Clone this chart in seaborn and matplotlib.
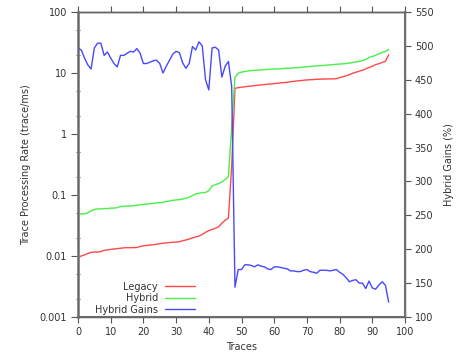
import numpy as np
import pandas as pd
import matplotlib
matplotlib.use("Agg")
import matplotlib.pyplot as plt
import matplotlib.ticker as mticker
import seaborn as sns

traces = list(range(96))

legacy = [0.0095, 0.0100, 0.0104, 0.0110, 0.0115, 0.0116, 0.0116, 0.0118, 0.0124, 0.0126,
          0.0128, 0.0130, 0.0132, 0.0134, 0.0136, 0.0137, 0.0137, 0.0137, 0.0138, 0.0143,
          0.0147, 0.0149, 0.0151, 0.0153, 0.0156, 0.0159, 0.0162, 0.0164, 0.0166, 0.0168,
          0.0169, 0.0172, 0.0178, 0.0183, 0.0190, 0.0198, 0.0206, 0.0212, 0.0226, 0.0245,
          0.0260, 0.0272, 0.0285, 0.0302, 0.0345, 0.0385, 0.042, 0.30, 5.6, 5.75,
          5.85, 5.95, 6.05, 6.1, 6.2, 6.3, 6.4, 6.45, 6.55, 6.6,
          6.7, 6.8, 6.9, 6.95, 7.05, 7.2, 7.3, 7.4, 7.5, 7.6,
          7.7, 7.75, 7.8, 7.9, 7.92, 7.95, 7.97, 8.0, 8.0, 8.1,
          8.4, 8.7, 9.0, 9.4, 9.9, 10.3, 10.7, 11.1, 11.7, 12.3,
          12.9, 13.7, 14.2, 14.9, 15.5, 19.8]

hybrid = [0.049, 0.049, 0.049, 0.051, 0.055, 0.058, 0.059, 0.059, 0.060, 0.060,
          0.061, 0.061, 0.062, 0.065, 0.065, 0.066, 0.066, 0.067, 0.068, 0.069,
          0.070, 0.071, 0.072, 0.073, 0.074, 0.075, 0.076, 0.078, 0.080, 0.082,
          0.083, 0.084, 0.086, 0.088, 0.092, 0.098, 0.104, 0.107, 0.109, 0.110,
          0.118, 0.140, 0.148, 0.154, 0.163, 0.180, 0.20, 1.3, 8.5, 9.9,
          10.3, 10.6, 10.8, 10.95, 11.05, 11.15, 11.25, 11.35, 11.45, 11.55,
          11.6, 11.7, 11.75, 11.85, 11.95, 12.05, 12.15, 12.25, 12.35, 12.5,
          12.65, 12.8, 12.95, 13.1, 13.2, 13.3, 13.45, 13.6, 13.75, 13.9,
          14.0, 14.15, 14.3, 14.6, 14.9, 15.2, 15.5, 16.0, 16.6, 18.1,
          18.6, 19.6, 20.6, 21.7, 22.6, 24.3]

gains = [497, 494, 482, 472, 466, 497, 504, 504, 486, 491,
         482, 474, 469, 486, 486, 489, 492, 491, 496, 489,
         474, 474, 476, 478, 479, 474, 460, 470, 479, 488,
         492, 490, 475, 467, 474, 499, 494, 506, 500, 450,
         435, 497, 498, 494, 454, 470, 477, 440, 144, 170,
         170, 177, 177, 176, 174, 177, 175, 174, 171, 170,
         174, 174, 173, 172, 171, 168, 168, 167, 167, 169,
         170, 167, 166, 164.5, 169, 169, 169, 168, 169, 170,
         166, 163, 158, 152, 154, 155, 150, 150, 142, 153,
         143, 141, 147, 152, 147, 122]

x_ticks = list(range(0, 101, 10))
y_ticks = [0.001, 0.01, 0.1, 1, 10, 100]
y_tick_labels = ["0.001", "0.01", "0.1", "1", "10", "100"]
y2_ticks = list(range(100, 551, 50))

df = pd.DataFrame({"Traces": traces, "Legacy": legacy, "Hybrid": hybrid, "Gains": gains})

sns.set_theme(style="white")
plt.rcParams["font.family"] = ["DejaVu Sans"]
plt.rcParams["font.size"] = 7

fig = plt.figure(figsize=(4.61, 3.60), dpi=100)
ax1 = fig.add_axes([78 / 461, 43 / 360, 327 / 461, 305 / 360])
ax2 = ax1.twinx()

sns.lineplot(data=df, x="Traces", y="Legacy", ax=ax1, color="#ff4848", linewidth=1, label="Legacy", legend=False)
sns.lineplot(data=df, x="Traces", y="Hybrid", ax=ax1, color="#48f048", linewidth=1, label="Hybrid", legend=False)
sns.lineplot(data=df, x="Traces", y="Gains", ax=ax2, color="#4848ff", linewidth=1, label="Hybrid Gains", legend=False)

ax1.set_yscale("log")
ax1.set_xlim(0, 100)
ax1.set_ylim(0.001, 100)
ax2.set_ylim(100, 550)

ax1.set_xticks(x_ticks)
ax1.set_xticklabels([str(t) for t in x_ticks])
ax1.set_yticks(y_ticks)
ax1.set_yticklabels(y_tick_labels)
ax1.yaxis.set_minor_locator(mticker.LogLocator(base=10, subs=[2.0, 5.0]))
ax1.yaxis.set_minor_formatter(mticker.NullFormatter())
ax2.set_yticks(y2_ticks)
ax2.set_yticklabels([str(t) for t in y2_ticks])

tc = "#333333"
ax1.xaxis.set_ticks_position("both")
ax1.tick_params(axis="x", which="major", direction="out", length=4, width=0.8, color="#555555",
                labelsize=7, labelcolor=tc, pad=3, top=True, bottom=True)
ax1.tick_params(axis="y", which="major", direction="out", length=5, width=0.8, color="#555555",
                labelsize=7, labelcolor=tc, pad=3, left=True, right=False)
ax1.tick_params(axis="y", which="minor", direction="inout", length=3, width=0.7, color="#555555",
                left=True, right=False)
ax2.tick_params(axis="y", which="major", direction="out", length=4, width=0.8, color="#555555",
                labelsize=7, labelcolor=tc, pad=3, right=True)

for ax in (ax1, ax2):
    for name, sp in ax.spines.items():
        sp.set_visible(True)
        sp.set_color("#666666")
        sp.set_linewidth(1.0)
ax1.spines["left"].set_color("#909090")
ax1.spines["left"].set_linewidth(2.0)
ax2.spines["right"].set_color("#707070")
ax2.spines["right"].set_linewidth(1.5)
ax1.spines["bottom"].set_color("#707070")
ax1.spines["bottom"].set_linewidth(1.5)
ax1.spines["top"].set_color("#333333")

ax1.set_xlabel("Traces", fontsize=7, color=tc, labelpad=4)
ax1.set_ylabel("Trace Processing Rate (trace/ms)", fontsize=7, color=tc, labelpad=6)
ax2.set_ylabel("Hybrid Gains (%)", fontsize=7, color=tc, labelpad=8)

h1, l1 = ax1.get_legend_handles_labels()
h2, l2 = ax2.get_legend_handles_labels()
leg = ax2.legend(h1 + h2, l1 + l2, loc="lower right", bbox_to_anchor=(0.36, 0.005),
                 frameon=False, markerfirst=False, fontsize=7, handlelength=3.1,
                 handletextpad=0.7, labelspacing=0.15, borderpad=0.1, borderaxespad=0)
for t in leg.get_texts():
    t.set_color(tc)

fig.savefig("out.png", dpi=100)
